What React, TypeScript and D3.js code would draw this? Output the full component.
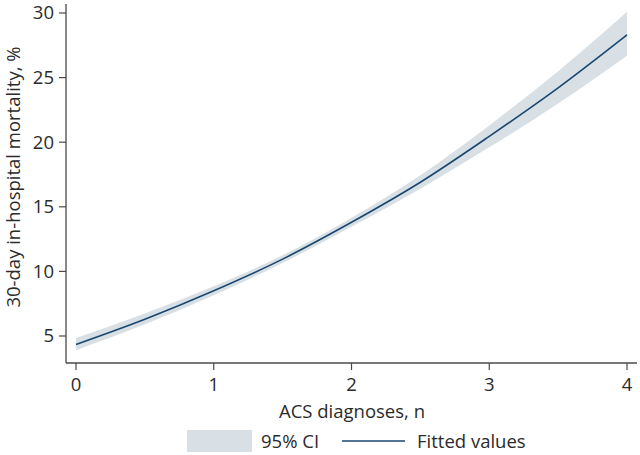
import React from "react";
import * as d3 from "d3";

const xValues = [0, 0.5, 1, 1.5, 2, 2.5, 3, 3.5, 4];
const fitted = [4.35, 6.3, 8.5, 10.95, 13.8, 16.9, 20.45, 24.2, 28.3];
const ciLower = [3.9, 5.9, 8.15, 10.65, 13.45, 16.4, 19.6, 23.0, 26.7];
const ciUpper = [4.85, 6.75, 8.85, 11.25, 14.15, 17.45, 21.3, 25.5, 30.1];
const xTicks = [0, 1, 2, 3, 4];
const yTicks = [5, 10, 15, 20, 25, 30];

const W = 640;
const H = 455;
const FONT = "'Open Sans', 'Noto Sans', sans-serif";
const NAVY = "#1a476f";
const BAND = "#d8e0e5";
const AXIS = "#4a4a4a";
const TEXT = "#2b2b2b";
const FS = 18.5;

export default function App() {
  const x = d3.scaleLinear().domain([0, 4]).range([76, 627]);
  const y = d3.scaleLinear().domain([5, 30]).range([336, 13]);
  const pts = xValues.map((v, i) => ({ x: v, f: fitted[i], lo: ciLower[i], hi: ciUpper[i] }));
  const area = d3
    .area<any>()
    .x((d) => x(d.x))
    .y0((d) => y(d.lo))
    .y1((d) => y(d.hi))
    .curve(d3.curveMonotoneX);
  const line = d3
    .line<any>()
    .x((d) => x(d.x))
    .y((d) => y(d.f))
    .curve(d3.curveMonotoneX);
  const axisX = 66;
  const axisY = 363;

  return (
    <svg
      width={W}
      height={H}
      style={{ position: "absolute", left: 0, top: 0, background: "#fff" }}
      fontFamily={FONT}
    >
      <rect x={0} y={0} width={W} height={H} fill="#fff" />
      <path d={area(pts) || ""} fill={BAND} />
      <path d={line(pts) || ""} fill="none" stroke={NAVY} strokeWidth={1.6} />
      {/* y axis */}
      <line x1={axisX} x2={axisX} y1={4} y2={axisY} stroke={AXIS} strokeWidth={1.3} />
      {yTicks.map((t) => (
        <g key={"y" + t}>
          <line x1={axisX - 7} x2={axisX} y1={y(t)} y2={y(t)} stroke={AXIS} strokeWidth={1.2} />
          <text x={axisX - 12} y={y(t)} dy="0.35em" textAnchor="end" fontSize={FS} fill={TEXT}>
            {t}
          </text>
        </g>
      ))}
      {/* x axis */}
      <line x1={axisX} x2={637} y1={axisY} y2={axisY} stroke={AXIS} strokeWidth={1.3} />
      {xTicks.map((t) => (
        <g key={"x" + t}>
          <line x1={x(t)} x2={x(t)} y1={axisY} y2={axisY + 7} stroke={AXIS} strokeWidth={1.2} />
          <text x={x(t)} y={391} textAnchor="middle" fontSize={FS} fill={TEXT}>
            {t}
          </text>
        </g>
      ))}
      <text x={352} y={418} textAnchor="middle" fontSize={FS} fill={TEXT}>
        ACS diagnoses, n
      </text>
      <text
        transform={`translate(20, ${177}) rotate(-90)`}
        textAnchor="middle"
        fontSize={FS}
        fill={TEXT}
      >
        30-day in-hospital mortality, %
      </text>
      {/* legend */}
      <rect x={187} y={430} width={65} height={22} fill={BAND} />
      <text x={261} y={448} fontSize={FS} fill={TEXT}>
        95% CI
      </text>
      <line x1={342} x2={405} y1={441} y2={441} stroke={NAVY} strokeWidth={1.6} />
      <text x={417} y={448} fontSize={FS} fill={TEXT}>
        Fitted values
      </text>
    </svg>
  );
}
